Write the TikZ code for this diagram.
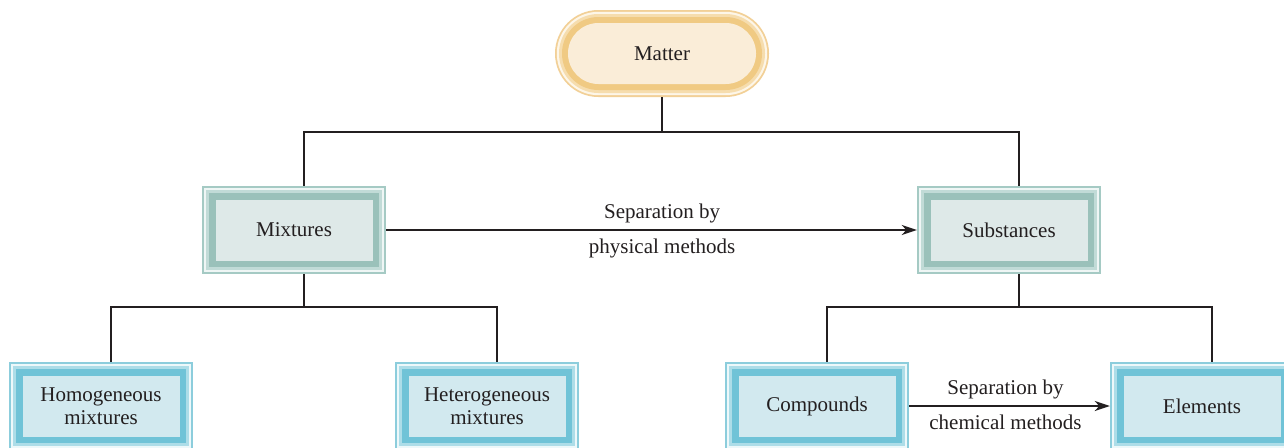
\documentclass[tikz,border=0pt]{standalone}
\usepackage{fontspec}
\setmainfont{Liberation Serif}
\usetikzlibrary{arrows.meta,calc}

\definecolor{txt}{HTML}{231F20}
% blue
\definecolor{bEdge}{HTML}{8CCDDC}
\definecolor{bWhite}{HTML}{EDF8FA}
\definecolor{bLight}{HTML}{ADDDE8}
\definecolor{bBand}{HTML}{70C3D7}
\definecolor{bFill}{HTML}{D2E9EF}
% green
\definecolor{gEdge}{HTML}{A5CAC4}
\definecolor{gWhite}{HTML}{EFF6F5}
\definecolor{gLight}{HTML}{C1DBD7}
\definecolor{gBand}{HTML}{9AC1BA}
\definecolor{gFill}{HTML}{DEE9E8}
% orange
\definecolor{oEdge}{HTML}{F2D097}
\definecolor{oWhite}{HTML}{FDF6E8}
\definecolor{oLight}{HTML}{F6DDAE}
\definecolor{oBand}{HTML}{F0CA83}
\definecolor{oFill}{HTML}{FAEDD8}

\newcommand\insetfill[3]{\fill[#2,#3] ([shift={(#1,#1)}]path picture bounding box.south west) rectangle ([shift={(-#1,-#1)}]path picture bounding box.north east);}

\tikzset{
  box/.style={rectangle, minimum width=184pt, minimum height=88pt, inner sep=0pt,
    align=center, text=txt, font=\fontsize{21}{23.5}\selectfont},
  bluebox/.style={box, fill=bEdge, path picture={
    \insetfill{1.8pt}{bWhite}{sharp corners}
    \insetfill{4pt}{bLight}{sharp corners}
    \insetfill{7pt}{bBand}{sharp corners}
    \insetfill{13.5pt}{bFill}{sharp corners}}},
  greenbox/.style={box, fill=gEdge, path picture={
    \insetfill{1.8pt}{gWhite}{sharp corners}
    \insetfill{4pt}{gLight}{sharp corners}
    \insetfill{7pt}{gBand}{sharp corners}
    \insetfill{13.5pt}{gFill}{sharp corners}}},
  stadium/.style={rectangle, minimum width=214pt, minimum height=87pt, inner sep=0pt,
    rounded corners=43.4pt, text=txt, font=\fontsize{21}{23.5}\selectfont,
    fill=oEdge, path picture={
    \insetfill{1.8pt}{oWhite}{rounded corners=41.6pt}
    \insetfill{4pt}{oLight}{rounded corners=39.4pt}
    \insetfill{7pt}{oBand}{rounded corners=36.4pt}
    \insetfill{13pt}{oFill}{rounded corners=30.4pt}}},
  conn/.style={draw=txt, line width=2.3pt},
  arr/.style={conn, -{Stealth[length=15pt,width=10pt,inset=4.5pt]}},
  lbl/.style={inner sep=0pt, text=txt, font=\fontsize{21}{23.5}\selectfont},
}

\begin{document}
\begin{tikzpicture}[x=1pt,y=-1pt]
\clip (0,0) rectangle (1284,447);
\fill[white] (0,0) rectangle (1284,447);

\node[stadium] (matter) at (662,53.5) {Matter};
\node[greenbox] (mix) at (294,230) {Mixtures};
\node[greenbox] (sub) at (1009,230) {Substances};
\node[bluebox] (homo) at (101,406) {Homogeneous\\mixtures};
\node[bluebox] (hetero) at (487,406) {Heterogeneous\\mixtures};
\node[bluebox] (comp) at (817,406) {Compounds};
\node[bluebox] (elem) at (1202,406) {Elements};

\coordinate (jTop) at (662,132);
\coordinate (jMix) at (304,307);
\coordinate (jSub) at (1019,307);

\draw[conn] (matter.south) -- (jTop);
\draw[conn] ([xshift=10pt]mix.north) |- (jTop) -| ([xshift=10pt]sub.north);
\draw[conn] ([xshift=10pt]mix.south) -- (jMix);
\draw[conn] ([xshift=10pt]homo.north) |- (jMix) -| ([xshift=10pt]hetero.north);
\draw[conn] ([xshift=10pt]sub.south) -- (jSub);
\draw[conn] ([xshift=10pt]comp.north) |- (jSub) -| ([xshift=10pt]elem.north);

\draw[arr] (mix.east) -- (sub.west)
  node[lbl, pos=0.52, above=6pt] {Separation by}
  node[lbl, pos=0.52, below=8pt] {physical methods};
\draw[arr] (comp.east) -- (elem.west)
  node[lbl, pos=0.48, above=6pt] {Separation by}
  node[lbl, pos=0.48, below=8pt] {chemical methods};
\end{tikzpicture}
\end{document}
